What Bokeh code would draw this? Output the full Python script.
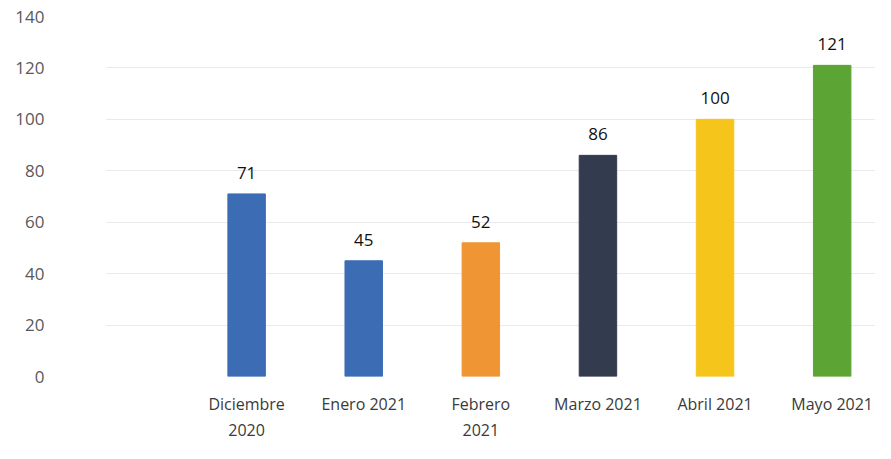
from bokeh.plotting import figure
from bokeh.models import ColumnDataSource, Range1d, FixedTicker, LabelSet
from bokeh.core.properties import value
from bokeh.embed import file_html
from bokeh.resources import INLINE

categories = ["Diciembre\n2020", "Enero 2021", "Febrero\n2021", "Marzo 2021", "Abril 2021", "Mayo 2021"]
values = [71, 45, 52, 86, 100, 121]
colors = ["#3B6CB4", "#3B6CB4", "#EF9534", "#333C4E", "#F6C51B", "#5CA535"]
y_ticks = [0, 20, 40, 60, 80, 100, 120, 140]

xs = list(range(len(categories)))
src = ColumnDataSource(dict(x=xs, top=values, color=colors, label=[str(v) for v in values]))

FONT = "Open Sans"

p = figure(width=875, height=443, output_backend="svg", toolbar_location=None,
           x_range=Range1d(-1.205, 5.37), y_range=Range1d(0, 140),
           min_border_left=105, min_border_right=0, min_border_top=16, min_border_bottom=40)
p.outline_line_color = None
p.background_fill_color = "white"
p.border_fill_color = "white"

p.vbar(x="x", top="top", width=0.32, color="color", source=src)

vals = LabelSet(x="x", y="top", text="label", source=src, text_align="center",
                text_baseline="middle", y_offset=21, text_font=value(FONT),
                text_font_size="17px", text_color="#111111")
p.add_layout(vals)

p.xaxis.ticker = FixedTicker(ticks=xs)
p.xaxis.major_label_overrides = {i: c for i, c in zip(xs, categories)}
p.xaxis.axis_line_color = None
p.xaxis.major_tick_line_color = None
p.xaxis.minor_tick_line_color = None
p.xaxis.major_label_text_font = FONT
p.xaxis.major_label_text_font_size = "16px"
p.xaxis.major_label_text_color = "#3A3A3A"
p.xaxis.major_label_standoff = 10

p.yaxis.ticker = FixedTicker(ticks=y_ticks)
p.yaxis.axis_line_color = None
p.yaxis.major_tick_line_color = None
p.yaxis.minor_tick_line_color = None
p.yaxis.major_label_text_font = FONT
p.yaxis.major_label_text_font_size = "17px"
p.yaxis.major_label_text_color = "#595959"
p.yaxis.major_label_standoff = 55

p.xgrid.grid_line_color = None
p.ygrid.grid_line_color = "#EAEAEA"
p.ygrid.ticker = FixedTicker(ticks=y_ticks)

open("out.html", "w").write(file_html(p, INLINE))
